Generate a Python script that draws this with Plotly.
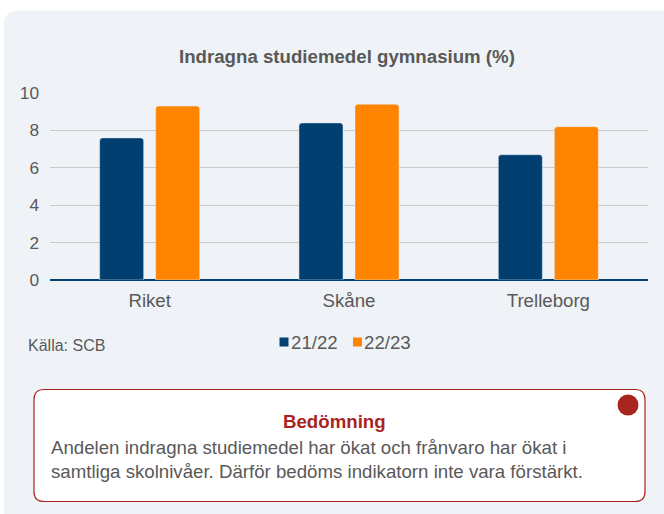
import plotly.graph_objects as go

categories = ["Riket", "Skåne", "Trelleborg"]
series_names = ["21/22", "22/23"]
values_2122 = [7.6, 8.4, 6.7]
values_2223 = [9.3, 9.4, 8.2]
y_ticks = [0, 2, 4, 6, 8, 10]
title_text = "Indragna studiemedel gymnasium (%)"
source_text = "Källa: SCB"
box_title = "Bedömning"
box_text = "Andelen indragna studiemedel har ökat och frånvaro har ökat i<br>samtliga skolnivåer. Därför bedöms indikatorn inte vara förstärkt."

W, H = 664, 514
L, R, T, B = 50, 16, 93, 234
PW, PH = W - L - R, H - T - B

def px(x):
    return (x - L) / PW

def py(y):
    return (H - B - y) / PH

GRAY = "#595959"
BLUE = "#003F6F"
ORANGE = "#FF8500"
RED = "#A8251F"
FONT = "Liberation Sans, Arial, sans-serif"
colors = [BLUE, ORANGE]

fig = go.Figure()
fig.add_trace(go.Bar(x=categories, y=values_2122, name=series_names[0], marker_color=colors[0]))
fig.add_trace(go.Bar(x=categories, y=values_2223, name=series_names[1], marker_color=colors[1]))

card_path = (f"M {px(4)},{py(25)} Q {px(4)},{py(10.5)} {px(18.5)},{py(10.5)} "
             f"L {px(700)},{py(10.5)} L {px(700)},{py(530)} L {px(4)},{py(530)} Z")

bx0, bx1, by0, by1, br = 34, 645, 389.5, 501.5, 10
box_path = (f"M {px(bx0)},{py(by0 + br)} Q {px(bx0)},{py(by0)} {px(bx0 + br)},{py(by0)} "
            f"L {px(bx1 - br)},{py(by0)} Q {px(bx1)},{py(by0)} {px(bx1)},{py(by0 + br)} "
            f"L {px(bx1)},{py(by1 - br)} Q {px(bx1)},{py(by1)} {px(bx1 - br)},{py(by1)} "
            f"L {px(bx0 + br)},{py(by1)} Q {px(bx0)},{py(by1)} {px(bx0)},{py(by1 - br)} Z")

shapes = [
    dict(type="path", xref="paper", yref="paper", path=card_path,
         fillcolor="#EFF3F7", line=dict(width=0), layer="below"),
    dict(type="path", xref="paper", yref="paper", path=box_path,
         fillcolor="white", line=dict(color=RED, width=1.2), layer="above"),
    dict(type="circle", xref="paper", yref="paper",
         x0=px(617.5), x1=px(638.5), y0=py(394.5), y1=py(415.5),
         fillcolor=RED, line=dict(width=0), layer="above"),
]

annotations = [
    dict(text=f"<b>{title_text}</b>", x=px(347), y=py(56), xref="paper", yref="paper",
         showarrow=False, xanchor="center", yanchor="middle",
         font=dict(family=FONT, size=18.67, color=GRAY)),
    dict(text=source_text, x=px(26), y=py(345), xref="paper", yref="paper",
         showarrow=False, xanchor="left", yanchor="middle",
         font=dict(family=FONT, size=16, color=GRAY)),
    dict(text=f"<b>{box_title}</b>", x=px(334), y=py(421), xref="paper", yref="paper",
         showarrow=False, xanchor="center", yanchor="middle",
         font=dict(family=FONT, size=18.67, color=RED)),
    dict(text=box_text, x=px(49), y=py(459), xref="paper", yref="paper",
         showarrow=False, xanchor="left", yanchor="middle", align="left",
         font=dict(family=FONT, size=18.67, color=GRAY)),
]

# legend (swatches + labels)
legend_sw_x = [279.5, 353]
for name, col, sx in zip(series_names, colors, legend_sw_x):
    shapes.append(dict(type="rect", xref="paper", yref="paper",
                       x0=px(sx), x1=px(sx + 9), y0=py(346.5), y1=py(337.5),
                       fillcolor=col, line=dict(width=0), layer="above"))
    annotations.append(dict(text=name, x=px(sx + 11), y=py(342), xref="paper", yref="paper",
                            showarrow=False, xanchor="left", yanchor="middle",
                            xshift=-2,
                            font=dict(family=FONT, size=18.67, color=GRAY)))

fig.update_layout(
    width=W, height=H,
    margin=dict(l=L, r=R, t=T, b=B, autoexpand=False),
    paper_bgcolor="white",
    plot_bgcolor="rgba(0,0,0,0)",
    barmode="group", bargap=0.438, bargroupgap=0.214, barcornerradius=3,
    font=dict(family=FONT, size=17, color=GRAY),
    showlegend=False,
    shapes=shapes,
    annotations=annotations,
    xaxis=dict(showgrid=False, showline=False, ticks="", ticklabelstandoff=7,
               tickfont=dict(size=18.67, color=GRAY)),
    yaxis=dict(range=[0, 10], tickvals=y_ticks, showgrid=True, gridcolor="#C8C8C8",
               gridwidth=1, zeroline=True, zerolinecolor=BLUE, zerolinewidth=1.5,
               ticks="", ticklabelstandoff=10, tickfont=dict(size=17.3, color=GRAY)),
)

fig.write_html("out.html", config={"displayModeBar": False},
               post_script="document.body.style.margin='0';document.body.style.overflow='hidden';")
